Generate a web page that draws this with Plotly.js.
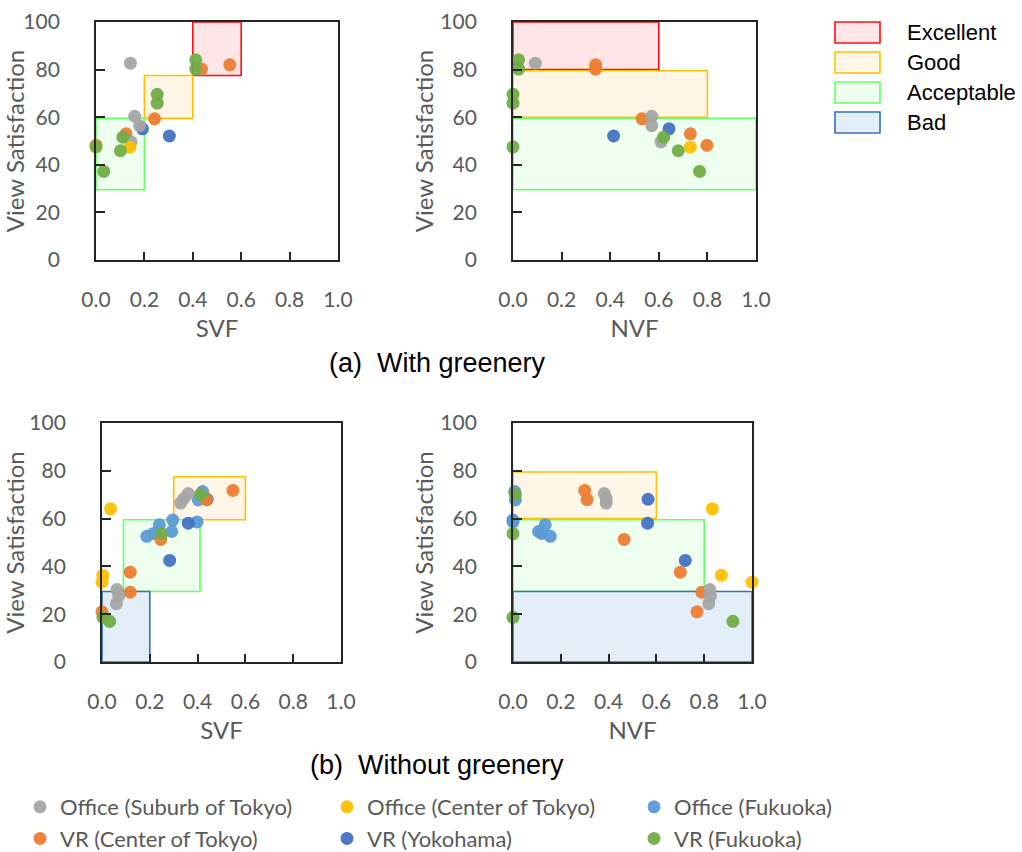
<!DOCTYPE html>
<html>
<head>
<meta charset="utf-8">
<script src="https://cdn.plot.ly/plotly-3.0.1.min.js"></script>
<style>html,body{margin:0;padding:0;background:#fff;}#chart{width:1022px;height:852px;}</style>
</head>
<body>
<div id="chart"></div>
<script>
// ---------- Series names ----------
const seriesNames = ['Office (Suburb of Tokyo)','Office (Center of Tokyo)','Office (Fukuoka)','VR (Center of Tokyo)','VR (Yokohama)','VR (Fukuoka)'];

// ---------- (a) With greenery ----------
const aSuburbSVF = [0.142, 0.16, 0.18, 0.145];
const aSuburbNVF = [0.092, 0.571, 0.571, 0.609];
const aSuburbVS  = [82.7, 60.4, 56.4, 49.6];

const aCenterSVF = [0.14];
const aCenterNVF = [0.73];
const aCenterVS  = [47.4];

const aVrCenterSVF = [0.553, 0.436, 0.242, 0.124, 0.0];
const aVrCenterNVF = [0.34, 0.34, 0.531, 0.73, 0.798];
const aVrCenterVS  = [82.0, 80.2, 59.3, 53.0, 48.2];

const aYokoSVF = [0.192, 0.303];
const aYokoNVF = [0.642, 0.414];
const aYokoVS  = [55.1, 52.1];

const aVrFukuSVF = [0.412, 0.412, 0.253, 0.253, 0.111, 0.101, 0.0, 0.032];
const aVrFukuNVF = [0.023, 0.023, 0.0, 0.0, 0.62, 0.68, 0.0, 0.768];
const aVrFukuVS  = [84.1, 80.2, 69.6, 65.9, 51.6, 45.9, 47.5, 37.2];

// ---------- (b) Without greenery ----------
const bSuburbSVF = [0.361, 0.343, 0.329, 0.0625, 0.07, 0.06];
const bSuburbNVF = [0.382, 0.39, 0.39, 0.823, 0.826, 0.819];
const bSuburbVS  = [70.5, 68.4, 66.5, 30.3, 27.6, 24.4];

const bCenterSVF = [0.036, 0.003, 0.0];
const bCenterNVF = [0.834, 0.872, 1.0];
const bCenterVS  = [64.1, 36.3, 33.4];

const bOffFukuSVF = [0.421, 0.403, 0.296, 0.398, 0.24, 0.292, 0.1875, 0.215];
const bOffFukuNVF = [0.007, 0.01, 0.0, 0.0, 0.135, 0.107, 0.156, 0.12];
const bOffFukuVS  = [71.3, 67.8, 59.4, 58.6, 57.4, 54.6, 52.6, 53.8];

const bVrCenterSVF = [0.548, 0.4375, 0.246, 0.118, 0.118, 0.0];
const bVrCenterNVF = [0.3, 0.31, 0.465, 0.7, 0.79, 0.77];
const bVrCenterVS  = [71.8, 67.9, 51.3, 37.6, 29.2, 21.0];

const bYokoSVF = [0.44, 0.361, 0.283];
const bYokoNVF = [0.565, 0.563, 0.721];
const bYokoVS  = [68.1, 58.1, 42.5];

const bVrFukuSVF = [0.4125, 0.25, 0.004, 0.032];
const bVrFukuNVF = [0.01, 0.0, 0.0, 0.92];
const bVrFukuVS  = [70.1, 53.7, 18.7, 17.0];

// ---------- Zones: [name, x0, x1, y0, y1] ----------
const zonesWithSVF    = [['Excellent',0.4,0.6,77.5,100],['Good',0.2,0.4,59.5,77.5],['Acceptable',0,0.2,29.5,59.5]];
const zonesWithNVF    = [['Excellent',0,0.6,80,100],['Good',0,0.8,60,79.5],['Acceptable',0,1.0,29.5,59.5]];
const zonesWithoutSVF = [['Good',0.3,0.6,59.5,77.5],['Acceptable',0.09,0.41,29.5,59.5],['Bad',0,0.2,0,29.5]];
const zonesWithoutNVF = [['Good',0,0.6,60,79.5],['Acceptable',0,0.8,29.5,59.5],['Bad',0,1.0,0,29.5]];
const zoneLegend = ['Excellent','Good','Acceptable','Bad'];

// ---------- Ticks ----------
const xTicks = [0, 0.2, 0.4, 0.6, 0.8, 1.0];
const xTickText = ['0.0','0.2','0.4','0.6','0.8','1.0'];
const yTicks = [0, 20, 40, 60, 80, 100];

// ---------- Styles ----------
const seriesColor = {
  'Office (Suburb of Tokyo)':'#A5A5A5',
  'Office (Center of Tokyo)':'#FFC000',
  'Office (Fukuoka)':'#5B9BD5',
  'VR (Center of Tokyo)':'#ED7D31',
  'VR (Yokohama)':'#4472C4',
  'VR (Fukuoka)':'#70AD47'
};
const zoneStyle = {
  'Excellent':{fill:'#FFE5E6', line:'#FF1010'},
  'Good':{fill:'#FFF6E7', line:'#FFC000'},
  'Acceptable':{fill:'#EFFFEF', line:'#66FF66'},
  'Bad':{fill:'#E4EEF8', line:'#2E75B6'}
};

const W = 1022, H = 852;
function px2x(p){return p/W;}
function py2y(p){return 1 - p/H;}

const panels = [
  {xa:'x', ya:'y'},
  {xa:'x2', ya:'y2'},
  {xa:'x3', ya:'y3'},
  {xa:'x4', ya:'y4'}
];

const data = [];
function addSeries(name, xs, ys, panel, showlegend){
  data.push({
    type:'scatter', mode:'markers', name:name, x:xs, y:ys,
    xaxis:panel.xa, yaxis:panel.ya, cliponaxis:false,
    showlegend:showlegend, legendgroup:name,
    legendrank: seriesNames.indexOf(name)+1,
    marker:{color:seriesColor[name], size:13, opacity:0.95, line:{width:0}},
    hoverinfo:'x+y+name'
  });
}
// draw order: light blue, blue, orange, gray, yellow, green
addSeries('VR (Yokohama)', aYokoSVF, aYokoVS, panels[0], false);
addSeries('VR (Center of Tokyo)', aVrCenterSVF, aVrCenterVS, panels[0], false);
addSeries('Office (Suburb of Tokyo)', aSuburbSVF, aSuburbVS, panels[0], false);
addSeries('Office (Center of Tokyo)', aCenterSVF, aCenterVS, panels[0], false);
addSeries('VR (Fukuoka)', aVrFukuSVF, aVrFukuVS, panels[0], false);

addSeries('VR (Yokohama)', aYokoNVF, aYokoVS, panels[1], false);
addSeries('VR (Center of Tokyo)', aVrCenterNVF, aVrCenterVS, panels[1], false);
addSeries('Office (Suburb of Tokyo)', aSuburbNVF, aSuburbVS, panels[1], false);
addSeries('Office (Center of Tokyo)', aCenterNVF, aCenterVS, panels[1], false);
addSeries('VR (Fukuoka)', aVrFukuNVF, aVrFukuVS, panels[1], false);

addSeries('Office (Fukuoka)', bOffFukuSVF, bOffFukuVS, panels[2], true);
addSeries('VR (Yokohama)', bYokoSVF, bYokoVS, panels[2], true);
addSeries('VR (Center of Tokyo)', bVrCenterSVF, bVrCenterVS, panels[2], true);
addSeries('Office (Suburb of Tokyo)', bSuburbSVF, bSuburbVS, panels[2], true);
addSeries('Office (Center of Tokyo)', bCenterSVF, bCenterVS, panels[2], true);
addSeries('VR (Fukuoka)', bVrFukuSVF, bVrFukuVS, panels[2], true);

addSeries('Office (Fukuoka)', bOffFukuNVF, bOffFukuVS, panels[3], false);
addSeries('VR (Yokohama)', bYokoNVF, bYokoVS, panels[3], false);
addSeries('VR (Center of Tokyo)', bVrCenterNVF, bVrCenterVS, panels[3], false);
addSeries('Office (Suburb of Tokyo)', bSuburbNVF, bSuburbVS, panels[3], false);
addSeries('Office (Center of Tokyo)', bCenterNVF, bCenterVS, panels[3], false);
addSeries('VR (Fukuoka)', bVrFukuNVF, bVrFukuVS, panels[3], false);

const shapes = [];
function addZones(zones, panel){
  zones.forEach(z => {
    const st = zoneStyle[z[0]];
    shapes.push({type:'rect', xref:panel.xa, yref:panel.ya, x0:z[1], x1:z[2], y0:z[3], y1:z[4],
      fillcolor:st.fill, line:{color:st.line, width:1.6}, layer:'below'});
  });
}
addZones(zonesWithSVF, panels[0]);
addZones(zonesWithNVF, panels[1]);
addZones(zonesWithoutSVF, panels[2]);
addZones(zonesWithoutNVF, panels[3]);

const annotations = [];
zoneLegend.forEach((name, i) => {
  const top = 22 + i*30;
  const st = zoneStyle[name];
  shapes.push({type:'rect', xref:'paper', yref:'paper', x0:px2x(835), x1:px2x(880), y0:py2y(top+21), y1:py2y(top),
    fillcolor:st.fill, line:{color:st.line, width:1.6}});
  annotations.push({xref:'paper', yref:'paper', x:px2x(905), y:py2y(top+10.5), xanchor:'left', yanchor:'middle',
    text:name, showarrow:false, font:{family:'Liberation Sans, Arial, sans-serif', size:22, color:'#000'}});
});
annotations.push({xref:'paper', yref:'paper', x:px2x(437), y:py2y(363), xanchor:'center', yanchor:'middle',
  text:'(a)\u00a0\u00a0With greenery', showarrow:false, font:{family:'Liberation Sans, Arial, sans-serif', size:27, color:'#000'}});
annotations.push({xref:'paper', yref:'paper', x:px2x(437), y:py2y(765), xanchor:'center', yanchor:'middle',
  text:'(b)\u00a0\u00a0Without greenery', showarrow:false, font:{family:'Liberation Sans, Arial, sans-serif', size:27, color:'#000'}});

const tickFont = {family:'Lato, Open Sans, sans-serif', size:21, color:'#595959'};
const titleFont = {family:'Lato, Open Sans, sans-serif', size:24, color:'#595959'};

function xAxis(domain, anchor, title){
  return {domain:domain, anchor:anchor, range:[0,1], tickvals:xTicks, ticktext:xTickText,
    ticks:'inside', ticklen:8, tickwidth:1.5, tickcolor:'#262626',
    showline:true, linecolor:'#262626', linewidth:1.8, mirror:true,
    showgrid:false, zeroline:false, tickfont:tickFont, ticklabelstandoff:20,
    automargin:true, fixedrange:true,
    title:{text:title, font:titleFont, standoff:10}};
}
function yAxis(domain, anchor){
  return {domain:domain, anchor:anchor, range:[0,100], tickvals:yTicks,
    ticks:'inside', ticklen:9, tickwidth:1.5, tickcolor:'#262626',
    showline:true, linecolor:'#262626', linewidth:1.8, mirror:true,
    showgrid:false, zeroline:false, tickfont:tickFont, ticklabelstandoff:30,
    automargin:true, fixedrange:true,
    title:{text:'View Satisfaction', font:titleFont, standoff:0}};
}

const layout = {
  width:W, height:H,
  margin:{l:0, r:0, t:0, b:0, autoexpand:false},
  paper_bgcolor:'#fff', plot_bgcolor:'#fff',
  showlegend:true,
  xaxis: xAxis([px2x(96), px2x(338)], 'y', 'SVF'),
  yaxis: yAxis([py2y(260), py2y(22)], 'x'),
  xaxis2: xAxis([px2x(513), px2x(756)], 'y2', 'NVF'),
  yaxis2: yAxis([py2y(260), py2y(22)], 'x2'),
  xaxis3: xAxis([px2x(102), px2x(341)], 'y3', 'SVF'),
  yaxis3: yAxis([py2y(662), py2y(423)], 'x3'),
  xaxis4: xAxis([px2x(513), px2x(752)], 'y4', 'NVF'),
  yaxis4: yAxis([py2y(662), py2y(423)], 'x4'),
  legend:{orientation:'h', x:px2x(20), y:py2y(786), xanchor:'left', yanchor:'top',
    entrywidth:262, entrywidthmode:'pixels', traceorder:'normal',
    font:{family:'Lato, Open Sans, sans-serif', size:22, color:'#595959'},
    bgcolor:'rgba(0,0,0,0)', itemclick:false, itemdoubleclick:false},
  shapes:shapes,
  annotations:annotations,
  hovermode:'closest'
};

Plotly.newPlot('chart', data, layout, {displayModeBar:false});
</script>
</body>
</html>
